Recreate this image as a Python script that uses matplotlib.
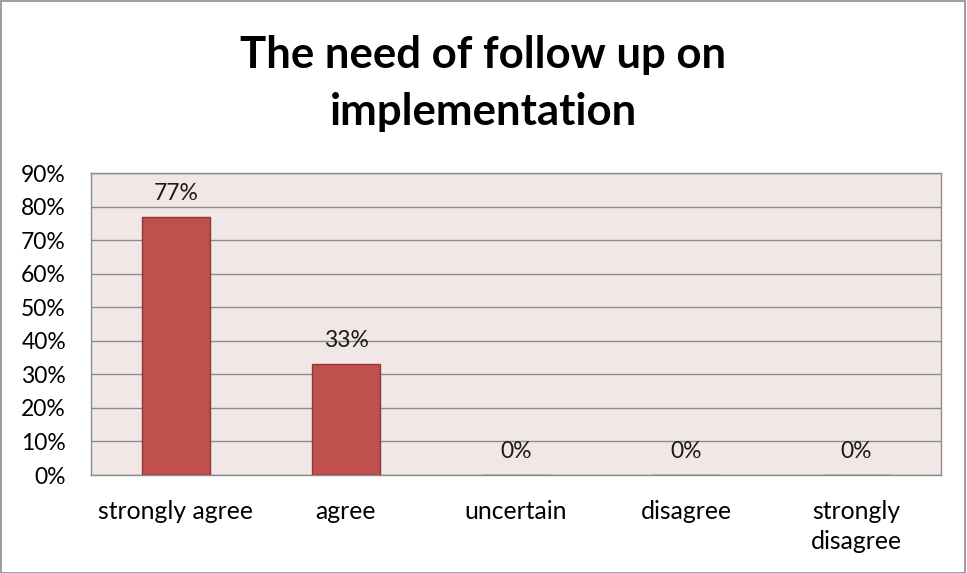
import matplotlib
matplotlib.use("Agg")
import matplotlib.pyplot as plt
from matplotlib.patches import Rectangle

categories = ["strongly agree", "agree", "uncertain", "disagree", "strongly\ndisagree"]
values = [77, 33, 0, 0, 0]
yticks = [0, 10, 20, 30, 40, 50, 60, 70, 80, 90]
ytick_labels = [f"{v}%" for v in yticks]
title_lines = ["The need of follow up on", "implementation"]

plt.rcParams['font.family'] = ['Lato', 'DejaVu Sans']

W, H = 967, 573
fig = plt.figure(figsize=(W / 100, H / 100), dpi=100)
fig.patches.append(Rectangle((0.5 / W, 0), 1 - 2.5 / W, 1 - 1 / H, transform=fig.transFigure,
                             fill=False, edgecolor='#8c8c8c', linewidth=1.2))

left, right, top, bottom = 91, 941, 173, 475
ax = fig.add_axes([left / W, 1 - bottom / H, (right - left) / W, (bottom - top) / H])
ax.set_facecolor('#f2e7e7')

x = list(range(len(categories)))
ax.bar(x, values, width=0.4, color='#c0504d', edgecolor='#8c3836', linewidth=1.0, zorder=3)
for xi, v in zip(x, values):
    ax.text(xi, v + 7, f"{v}%", ha='center', va='center', fontsize=16.5, color='#1a1a1a', zorder=4)

ax.set_xlim(-0.5, len(categories) - 0.5)
ax.set_ylim(0, 90)
ax.set_yticks(yticks)
ax.set_yticklabels(ytick_labels, fontsize=16.5)
ax.set_xticks(x)
ax.set_xticklabels(categories, fontsize=17.8, linespacing=1.35)
ax.tick_params(axis='both', length=0)
ax.tick_params(axis='y', pad=18)
ax.tick_params(axis='x', pad=18)
ax.yaxis.grid(True, color='#8c8c8c', linewidth=1.0, zorder=1)
for s in ax.spines.values():
    s.set_color('#8c8c8c')
    s.set_linewidth(1.0)

for line, base in zip(title_lines, [68, 125]):
    fig.text(0.5, 1 - base / H, line, ha='center', va='baseline', fontsize=31.5,
             fontweight='bold', color='black')

fig.savefig("out.png", dpi=100)
